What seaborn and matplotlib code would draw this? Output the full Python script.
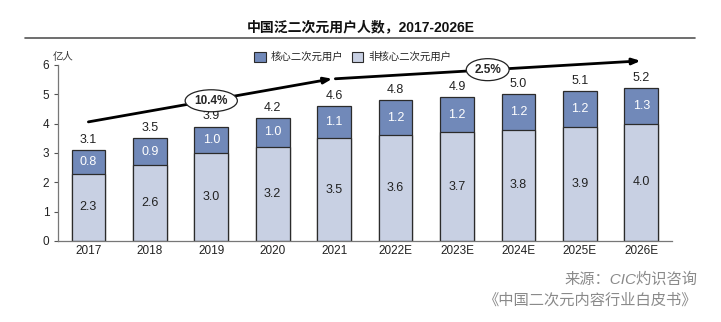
import matplotlib
matplotlib.use("Agg")
import matplotlib.pyplot as plt
import seaborn as sns
import pandas as pd
from matplotlib.patches import Patch

years = ["2017", "2018", "2019", "2020", "2021", "2022E", "2023E", "2024E", "2025E", "2026E"]
noncore = [2.3, 2.6, 3.0, 3.2, 3.5, 3.6, 3.7, 3.8, 3.9, 4.0]
core = [0.8, 0.9, 1.0, 1.0, 1.1, 1.2, 1.2, 1.2, 1.2, 1.3]
totals = [3.1, 3.5, 3.9, 4.2, 4.6, 4.8, 4.9, 5.0, 5.1, 5.2]
cagr_labels = ["10.4%", "2.5%"]

sns.set_theme(style="white")
plt.rcParams['font.family'] = ['Liberation Sans', 'Noto Sans CJK SC', 'DejaVu Sans']

df = pd.DataFrame({"year": years, "noncore": noncore, "core": core, "total": totals})

fig = plt.figure(figsize=(7.21, 3.22), dpi=100)
ax = fig.add_axes([0.080, 0.2516, 0.852, 0.5466])

core_c = "#7189b9"
non_c = "#c8d0e3"
edge = "#2b2b2b"

sns.barplot(data=df, x="year", y="total", color=core_c, width=0.55, ax=ax,
            edgecolor=edge, linewidth=0.9, saturation=1)
sns.barplot(data=df, x="year", y="noncore", color=non_c, width=0.55, ax=ax,
            edgecolor=edge, linewidth=0.9, saturation=1)

for i in range(len(years)):
    ax.text(i, noncore[i] / 2, f"{noncore[i]:.1f}", ha="center", va="center",
            fontsize=9, color="#222222")
    ax.text(i, (noncore[i] + totals[i]) / 2, f"{core[i]:.1f}", ha="center", va="center",
            fontsize=9, color="white")
    ax.annotate(f"{totals[i]:.1f}", (i, totals[i]), xytext=(0, 3), textcoords="offset points",
                ha="center", va="bottom", fontsize=9, color="#222222")

ax.set_xlim(-0.5, 9.5)
ax.set_ylim(0, 6)
ax.set_yticks(range(0, 7))
ax.set_xlabel("")
ax.set_ylabel("")
ax.tick_params(axis="both", labelsize=8.5, colors="#222222", length=0, pad=3)
ax.tick_params(axis="y", length=3, width=0.8, color="#555555", direction="out", left=True)
for s in ["top", "right"]:
    ax.spines[s].set_visible(False)
for s in ["left", "bottom"]:
    ax.spines[s].set_color("#777777")
    ax.spines[s].set_linewidth(0.9)

# CAGR arrows
arrow_kw = dict(arrowstyle="-|>,head_length=0.4,head_width=0.15", color="black", lw=2,
                shrinkA=0, shrinkB=0)
ax.annotate("", xy=(3.97, 5.53), xytext=(0.0, 4.06), arrowprops=arrow_kw, annotation_clip=False)
ax.annotate("", xy=(8.99, 6.14), xytext=(4.02, 5.53), arrowprops=arrow_kw, annotation_clip=False)
bb = dict(boxstyle="ellipse,pad=0.15", fc="white", ec="#222222", lw=0.9)
ax.text(2.0, 4.78, cagr_labels[0], ha="center", va="center", fontsize=8.5, fontweight="bold",
        bbox=bb, clip_on=False)
ax.text(6.5, 5.84, cagr_labels[1], ha="center", va="center", fontsize=8.5, fontweight="bold",
        bbox=bb, clip_on=False)

# Title and rule
fig.text(0.5, 1 - 27 / 322, "中国泛二次元用户人数，2017-2026E", ha="center", va="center",
         fontsize=10, fontweight="bold", color="#111111")
fig.add_artist(plt.Line2D([25 / 721, 695 / 721], [1 - 38 / 322, 1 - 38 / 322],
                          color="#555555", lw=1.2))

# Legend
handles = [Patch(facecolor=core_c, edgecolor=edge, lw=0.8, label="核心二次元用户"),
           Patch(facecolor=non_c, edgecolor=edge, lw=0.8, label="非核心二次元用户")]
fig.legend(handles=handles, loc="center", bbox_to_anchor=(353 / 721, 1 - 57 / 322), ncol=2,
           frameon=False, fontsize=7.5, handlelength=1.1, handleheight=1.1, handletextpad=0.5,
           columnspacing=0.8)

fig.text(53 / 721, 1 - 57 / 322, "亿人", ha="left", va="center", fontsize=7.5,
         color="#333333", style="italic")

# Footer
fig.text(697 / 721, 1 - 280 / 322, "来源：CIC灼识咨询", ha="right", va="center",
         fontsize=11, color="#8a8a8a", style="italic")
fig.text(697 / 721, 1 - 300 / 322, "《中国二次元内容行业白皮书》", ha="right", va="center",
         fontsize=11, color="#8a8a8a", style="italic")

fig.savefig("out.png", dpi=100)
